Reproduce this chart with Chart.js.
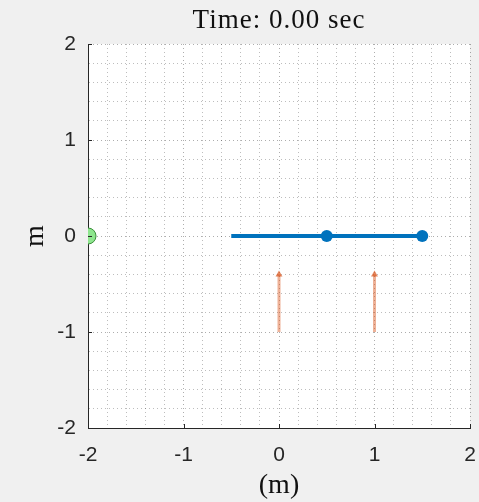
<!DOCTYPE html>
<html>
<head>
<meta charset="utf-8">
<script src="https://cdn.jsdelivr.net/npm/chart.js@4/dist/chart.umd.min.js"></script>
<style>
  html, body { margin: 0; padding: 0; background: #f0f0f0; }
  #wrap { width: 479px; height: 502px; }
</style>
</head>
<body>
<div id="wrap"><canvas id="sim"></canvas></div>
<script>
const TITLE_TEXT = "Time: 0.00 sec";
const AXIS_MIN = -2;
const AXIS_MAX = 2;

// beam from x=-0.5 to 1.5 on y=0
const beamX = [-0.5, 1.5];
const beamY = [0, 0];
// masses on the beam
const massX = [0.5, 1.5];
const massY = [0, 0];
// anchor at the left edge
const anchorX = [-2];
const anchorY = [0];
// force arrows (start y, tip y)
const arrowX = [0, 1];
const arrowFrom = [-1, -1];
const arrowTo = [-0.4, -0.4];

function pts(xs, ys) {
  return xs.map((x, i) => ({ x, y: ys[i] }));
}

const isMajor = (v) => Math.abs(v - Math.round(v)) < 1e-6;

const plotBg = {
  id: "plotBg",
  beforeDraw(chart) {
    const { ctx, chartArea: a } = chart;
    ctx.save();
    ctx.fillStyle = "#ffffff";
    ctx.fillRect(a.left, a.top, a.right - a.left, a.bottom - a.top);
    ctx.restore();
  },
  afterDraw(chart) {
    const { ctx, chartArea: a, scales } = chart;
    ctx.save();
    // inward tick marks at the major values
    ctx.strokeStyle = "#262626";
    ctx.lineWidth = 1;
    ctx.beginPath();
    for (let v = AXIS_MIN; v <= AXIS_MAX; v++) {
      const px = Math.round(scales.x.getPixelForValue(v)) + 0.5;
      ctx.moveTo(px, a.bottom);
      ctx.lineTo(px, a.bottom - 4);
      const py = Math.round(scales.y.getPixelForValue(v)) + 0.5;
      ctx.moveTo(a.left, py);
      ctx.lineTo(a.left + 4, py);
    }
    ctx.stroke();
    // title centred on the plot area
    ctx.fillStyle = "#111";
    ctx.font = "27px 'Liberation Serif', serif";
    ctx.letterSpacing = "1px";
    ctx.textAlign = "center";
    ctx.textBaseline = "middle";
    ctx.fillText(TITLE_TEXT, (a.left + a.right) / 2, 21);
    ctx.restore();
  },
};

const gridColor = (c) =>
  isMajor(c.tick.value) ? "rgba(0,0,0,0.32)" : "rgba(0,0,0,0.26)";

const datasets = [
  {
    label: "anchor",
    data: pts(anchorX, anchorY),
    showLine: false,
    pointRadius: 8,
    pointBackgroundColor: "#8ee68e",
    pointBorderColor: "#3c8f3c",
    pointBorderWidth: 1,
  },
  {
    label: "beam",
    data: pts(beamX, beamY),
    showLine: true,
    borderColor: "#0072BD",
    borderWidth: 4,
    pointRadius: 0,
  },
  {
    label: "masses",
    data: pts(massX, massY),
    showLine: false,
    pointRadius: 6,
    pointBackgroundColor: "#0072BD",
    pointBorderColor: "#0072BD",
    pointBorderWidth: 0,
  },
];

arrowX.forEach((x, i) => {
  datasets.push({
    label: "force " + (i + 1),
    data: [
      { x, y: arrowFrom[i] },
      { x, y: arrowTo[i] },
    ],
    showLine: true,
    borderColor: "rgba(217,83,25,0.45)",
    borderWidth: 3,
    pointStyle: "triangle",
    pointRadius: [0, 4],
    pointBackgroundColor: "rgba(217,83,25,0.7)",
    pointBorderWidth: 0,
  });
});

const tickFont = { family: "'Liberation Sans', Arial, sans-serif", size: 21 };
const labelFont = { family: "'Liberation Serif', serif", size: 28 };

new Chart(document.getElementById("sim"), {
  type: "scatter",
  data: { datasets },
  options: {
    responsive: true,
    maintainAspectRatio: false,
    animation: false,
    layout: { padding: { top: 44, right: 9, left: 0, bottom: 0 } },
    plugins: {
      legend: { display: false },
      tooltip: { enabled: false },
      title: { display: false },
    },
    scales: {
      x: {
        type: "linear",
        min: AXIS_MIN,
        max: AXIS_MAX,
        afterFit: (s) => {
          s.height = 74;
          s.paddingLeft = 0;
          s.paddingRight = 0;
        },
        border: { display: true, color: "#262626", width: 1, dash: [1, 3] },
        grid: { color: gridColor, drawTicks: false },
        ticks: {
          stepSize: 0.2,
          autoSkip: false,
          maxRotation: 0,
          padding: 15,
          color: "#262626",
          font: tickFont,
          callback: (v) => (isMajor(v) ? String(Math.round(v)) : ""),
        },
        title: {
          display: true,
          text: "(m)",
          color: "#111",
          font: labelFont,
          padding: { top: 0, bottom: 0 },
        },
      },
      y: {
        type: "linear",
        min: AXIS_MIN,
        max: AXIS_MAX,
        afterFit: (s) => {
          s.width = 88;
          s.paddingTop = 0;
          s.paddingBottom = 0;
        },
        border: { display: true, color: "#262626", width: 1, dash: [1, 3] },
        grid: { color: gridColor, drawTicks: false },
        ticks: {
          stepSize: 0.2,
          autoSkip: false,
          padding: 12,
          color: "#262626",
          font: tickFont,
          callback: (v) => (isMajor(v) ? String(Math.round(v)) : ""),
        },
        title: {
          display: true,
          text: "m",
          color: "#111",
          font: labelFont,
          padding: { top: 19, bottom: 0 },
        },
      },
    },
  },
  plugins: [plotBg],
});
</script>
</body>
</html>
